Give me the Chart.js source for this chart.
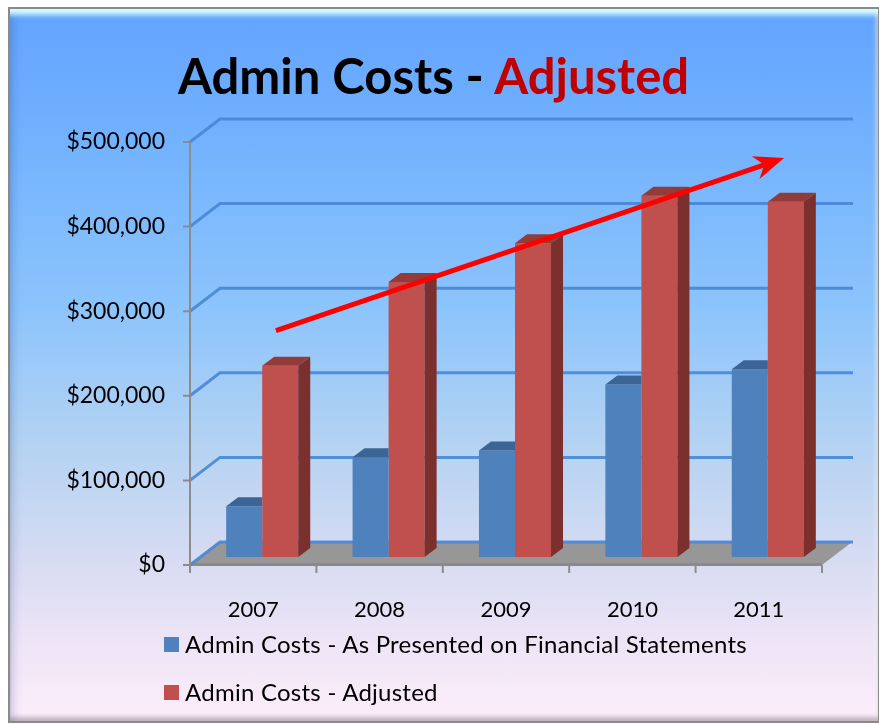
<!DOCTYPE html>
<html>
<head>
<meta charset="utf-8">
<title>Admin Costs - Adjusted</title>
<script src="https://cdn.jsdelivr.net/npm/chart.js@4.4.1/dist/chart.umd.min.js"></script>
<style>
  body { margin: 0; width: 879px; height: 725px; background: #fff; overflow: hidden; font-family: Lato, sans-serif; }
  #frame {
    position: absolute; left: 8px; top: 7px; width: 868px; height: 712px;
    border: 2px solid #8a8a8a; border-right-width: 1px;
    background: linear-gradient(to bottom, #62a3ff 0%, #74b3fe 20%, #8cc4fc 42%, #b6d3f2 62%, #d8dcf2 78%, #ece4f6 88%, #fdedfa 100%);
    box-shadow: inset 0 12px 5px -6px rgba(215, 255, 255, 0.95),
                inset 10px 0 8px -6px rgba(40, 70, 140, 0.18),
                inset 0 -5px 4px -1px rgba(120, 110, 120, 0.45),
                inset -4px 0 4px -2px rgba(255, 255, 255, 0.6);
  }
  #chart { position: absolute; left: 0; top: 0; }
  #title { position: absolute; left: 178px; top: 51px; font: bold 49px/49px Lato, sans-serif; white-space: nowrap; color: #000; }
  #title span { color: #c00000; }
  .legend-item { position: absolute; left: 164px; font: 24px/24px Lato, sans-serif; letter-spacing: 0.25px; color: #000; white-space: nowrap; }
  .legend-item i { position: absolute; left: 0; top: 5px; width: 15px; height: 15px; }
  .legend-item b { font-weight: normal; position: absolute; left: 21px; top: 0; }
</style>
</head>
<body>
<div id="frame"></div>
<canvas id="chart" width="879" height="725"></canvas>
<div id="title">Admin Costs - <span>Adjusted</span></div>
<div id="legend"></div>
<script>
const years = ['2007', '2008', '2009', '2010', '2011'];
const asPresented = [60000, 118000, 126000, 204000, 222000];
const adjusted = [226000, 325000, 371000, 427000, 420000];
const seriesNames = ['Admin Costs - As Presented on Financial Statements', 'Admin Costs - Adjusted'];
const yTicks = [0, 100000, 200000, 300000, 400000, 500000];
// trend arrow, in [category index, value]
const trendFrom = [0.18, 277000];
const trendTo = [4.2, 481000];

const frontColors = ['#4f81bd', '#c0504d'];
const topColors = ['#3c6494', '#923c3a'];
const sideColors = ['#375c8a', '#7b302e'];

// fake 3d depth
const WALL_DX = 30, WALL_DY = -23;
const BAR_DX = 9, BAR_DY = -8;
const FACE_DX = 12, FACE_DY = -9;

function poly(ctx, pts, color) {
    ctx.beginPath();
    ctx.moveTo(pts[0][0], pts[0][1]);
    for (let i = 1; i < pts.length; i++) ctx.lineTo(pts[i][0], pts[i][1]);
    ctx.closePath();
    ctx.fillStyle = color;
    ctx.fill();
}

function drawWalls(chart) {
    const ctx = chart.ctx;
    const a = chart.chartArea;
    const yScale = chart.scales.y;
    const xScale = chart.scales.x;
    const y0 = yScale.getPixelForValue(0);

    ctx.save();
    // floor
    poly(ctx, [[a.left, y0], [a.left + WALL_DX, y0 + WALL_DY], [a.right + WALL_DX, y0 + WALL_DY], [a.right, y0]], '#979797');
    ctx.fillStyle = '#8a8a8a';
    ctx.fillRect(a.left, y0 - 2, a.right - a.left, 3);

    // gridlines on the back wall
    ctx.strokeStyle = 'rgba(72, 134, 214, 0.9)';
    ctx.lineWidth = 3;
    yTicks.forEach(v => {
        const py = yScale.getPixelForValue(v);
        ctx.beginPath();
        ctx.moveTo(a.left, py);
        ctx.lineTo(a.left + WALL_DX, py + WALL_DY);
        ctx.lineTo(a.right + WALL_DX + 1, py + WALL_DY);
        ctx.stroke();
    });

    // axis lines and ticks
    ctx.strokeStyle = '#8c8c8c';
    ctx.lineWidth = 2;
    ctx.beginPath();
    ctx.moveTo(a.left, a.top);
    ctx.lineTo(a.left, a.bottom + 8);
    yTicks.forEach(v => {
        const py = yScale.getPixelForValue(v);
        ctx.moveTo(a.left - 7, py);
        ctx.lineTo(a.left, py);
    });
    for (let i = 0; i <= years.length; i++) {
        const px = xScale.getPixelForValue(i - 0.5);
        ctx.moveTo(px, a.bottom);
        ctx.lineTo(px, a.bottom + 8);
    }
    ctx.stroke();
    ctx.restore();
}

function drawFaces(chart) {
    const ctx = chart.ctx;
    chart.data.datasets.forEach((ds, d) => {
        const meta = chart.getDatasetMeta(d);
        meta.data.forEach(el => {
            const p = el.getProps(['x', 'y', 'base', 'width'], true);
            const x1 = p.x - p.width / 2;
            const x2 = p.x + p.width / 2;
            const top = Math.min(p.y, p.base);
            const base = Math.max(p.y, p.base);
            if (d === 0) {
                // right part hidden behind the next bar
                poly(ctx, [[x1, top], [x1 + FACE_DX, top + FACE_DY], [x2, top + FACE_DY], [x2, top]], topColors[d]);
            } else {
                poly(ctx, [[x1, top], [x1 + FACE_DX, top + FACE_DY], [x2 + FACE_DX, top + FACE_DY], [x2, top]], topColors[d]);
                poly(ctx, [[x2, top], [x2 + FACE_DX, top + FACE_DY], [x2 + FACE_DX, base + FACE_DY], [x2, base]], sideColors[d]);
            }
        });
    });
}

function drawArrow(chart) {
    const ctx = chart.ctx;
    const xs = chart.scales.x, ys = chart.scales.y;
    const sx = xs.getPixelForValue(trendFrom[0]), sy = ys.getPixelForValue(trendFrom[1]);
    const tx = xs.getPixelForValue(trendTo[0]), ty = ys.getPixelForValue(trendTo[1]);
    const len = Math.hypot(tx - sx, ty - sy);
    const ux = (tx - sx) / len, uy = (ty - sy) / len;
    const nx = -uy, ny = ux;
    const L = 30, W = 12, notch = 9;

    ctx.save();
    ctx.strokeStyle = '#ff0000';
    ctx.lineWidth = 5;
    ctx.beginPath();
    ctx.moveTo(sx, sy);
    ctx.lineTo(tx - (L - notch) * ux, ty - (L - notch) * uy);
    ctx.stroke();
    poly(ctx, [
        [tx, ty],
        [tx - L * ux + W * nx, ty - L * uy + W * ny],
        [tx - (L - notch) * ux, ty - (L - notch) * uy],
        [tx - L * ux - W * nx, ty - L * uy - W * ny]
    ], '#ff0000');
    ctx.restore();
}

const threeD = {
    id: 'threeD',
    beforeDatasetsDraw(chart) {
        drawWalls(chart);
        chart.ctx.save();
        chart.ctx.translate(BAR_DX, BAR_DY);
    },
    afterDatasetsDraw(chart) {
        drawFaces(chart);
        chart.ctx.restore();
        drawArrow(chart);
    }
};

Chart.defaults.font.family = 'Lato, sans-serif';

new Chart(document.getElementById('chart'), {
    type: 'bar',
    data: {
        labels: years,
        datasets: [
            { label: seriesNames[0], data: asPresented, backgroundColor: frontColors[0] },
            { label: seriesNames[1], data: adjusted, backgroundColor: frontColors[1] }
        ]
    },
    options: {
        responsive: false,
        animation: false,
        layout: { padding: { top: 142, right: 57, bottom: 0, left: 0 } },
        datasets: { bar: { categoryPercentage: 0.57, barPercentage: 1 } },
        plugins: {
            legend: { display: false },
            title: { display: false },
            tooltip: { enabled: false }
        },
        scales: {
            x: {
                grid: { display: false, drawTicks: false },
                border: { display: false },
                ticks: { color: '#000', font: { size: 22 }, padding: 32 },
                afterFit: s => { s.height = 160; }
            },
            y: {
                min: 0,
                max: 500000,
                grid: { display: false, drawTicks: false },
                border: { display: false },
                ticks: {
                    stepSize: 100000,
                    color: '#000',
                    font: { size: 23 },
                    padding: 25,
                    callback: v => '$' + v.toLocaleString('en-US')
                },
                afterFit: s => { s.width = 190; }
            }
        }
    },
    plugins: [threeD]
});

// legend
const legend = document.getElementById('legend');
seriesNames.forEach((name, i) => {
    const item = document.createElement('div');
    item.className = 'legend-item';
    item.style.top = (632 + i * 48) + 'px';
    item.innerHTML = '<i style="background:' + frontColors[i] + '"></i><b></b>';
    item.querySelector('b').textContent = name;
    legend.appendChild(item);
});
</script>
</body>
</html>
